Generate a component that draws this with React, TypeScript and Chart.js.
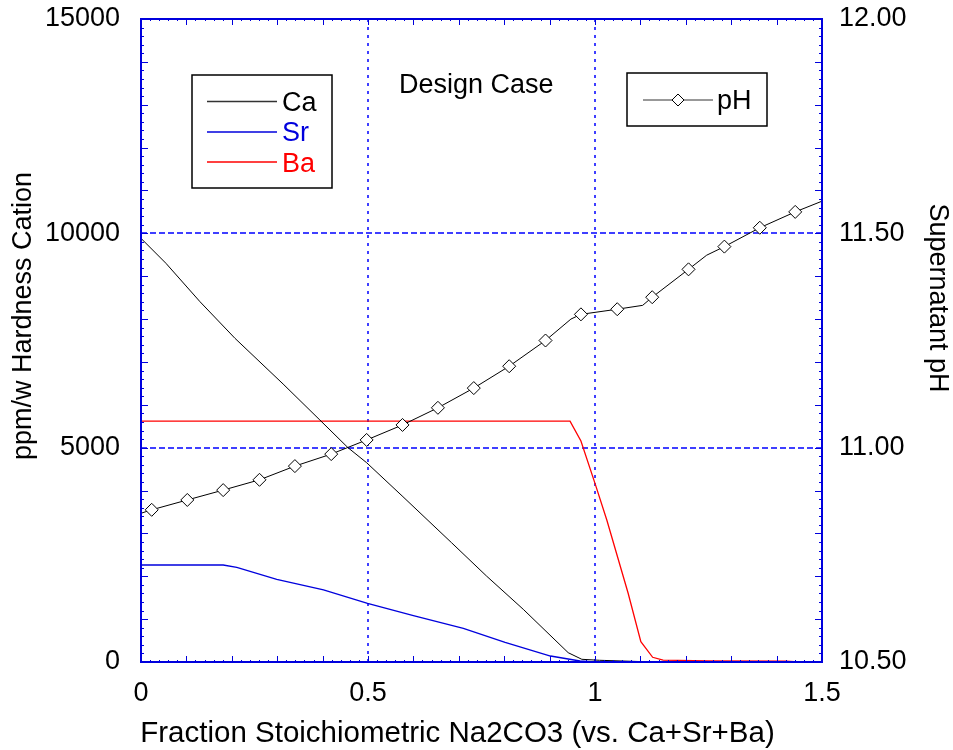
import React, { useEffect, useRef } from "react";
import { Chart, registerables } from "chart.js";
Chart.register(...registerables);

// ---- data ----
const caFrac = [0, 0.055, 0.13, 0.207, 0.313, 0.394, 0.456, 0.497, 0.577, 0.684, 0.761, 0.842, 0.941, 0.971, 1.01, 1.1, 1.5];
const caPpm = [9883, 9300, 8404, 7551, 6485, 5645, 4999, 4649, 3856, 2783, 2006, 1229, 217, 63, 40, 10, 0];

const srFrac = [0, 0.181, 0.211, 0.299, 0.402, 0.499, 0.6, 0.71, 0.802, 0.902, 0.967, 1.0, 1.5];
const srPpm = [2263, 2263, 2209, 1929, 1680, 1370, 1080, 786, 460, 140, 23, 5, 0];

const baFrac = [0, 0.945, 0.969, 1.0, 1.026, 1.073, 1.101, 1.127, 1.15, 1.25, 1.42, 1.45, 1.5];
const baPpm = [5620, 5620, 5155, 4168, 3312, 1603, 474, 110, 45, 25, 20, 0, 0];

const phFrac = [0, 0.0236, 0.102, 0.181, 0.261, 0.339, 0.419, 0.497, 0.576, 0.654, 0.733, 0.811, 0.891, 0.947, 0.969, 1.049, 1.105, 1.126, 1.206, 1.246, 1.285, 1.363, 1.441, 1.5];
const phVal = [10.847, 10.855, 10.878, 10.901, 10.925, 10.957, 10.985, 11.018, 11.053, 11.093, 11.139, 11.19, 11.25, 11.3, 11.311, 11.323, 11.332, 11.351, 11.416, 11.449, 11.469, 11.513, 11.55, 11.575];

const phMarkFrac = [0.0236, 0.102, 0.181, 0.261, 0.339, 0.419, 0.497, 0.576, 0.654, 0.733, 0.811, 0.891, 0.969, 1.049, 1.126, 1.206, 1.285, 1.363, 1.441];
const phMarkVal = [10.855, 10.878, 10.901, 10.925, 10.957, 10.985, 11.018, 11.053, 11.093, 11.139, 11.19, 11.25, 11.311, 11.323, 11.351, 11.416, 11.469, 11.513, 11.55];

const xGridValues = [0.5, 1.0];
const yGridValues = [5000, 10000];

const xLabel = "Fraction Stoichiometric Na2CO3 (vs. Ca+Sr+Ba)";
const yLabel = "ppm/w Hardness Cation";
const y2Label = "Supernatant pH";
const noteText = "Design Case";

const FONT_FAMILY = '"Liberation Sans", Arial, Helvetica, sans-serif';
const FONT_SIZE = 27;
const XTITLE_SIZE = 29.5;
const AXIS_BLUE = "#0000dd";
const GRID_BLUE = "#0000ff";
const SR_BLUE = "#0000dd";
const BA_RED = "#ff0000";

const pts = (xs: number[], ys: number[]) => xs.map((x, i) => ({ x, y: ys[i] }));

const framePlugin = {
  id: "frameDecor",
  beforeDatasetsDraw(chart: any) {
    const { ctx, chartArea: a, scales } = chart;
    const sx = scales.x, sy = scales.y;
    ctx.save();
    ctx.strokeStyle = GRID_BLUE;
    ctx.lineWidth = 1.5;
    ctx.setLineDash([3, 5]);
    for (const v of xGridValues) {
      const px = Math.round(sx.getPixelForValue(v));
      ctx.beginPath(); ctx.moveTo(px, a.top); ctx.lineTo(px, a.bottom); ctx.stroke();
    }
    ctx.setLineDash([6, 3]);
    for (const v of yGridValues) {
      const py = Math.round(sy.getPixelForValue(v));
      ctx.beginPath(); ctx.moveTo(a.left, py); ctx.lineTo(a.right, py); ctx.stroke();
    }
    ctx.restore();
  },
  afterDatasetsDraw(chart: any) {
    const { ctx, chartArea: a, scales } = chart;
    const sx = scales.x, sy = scales.y, sy2 = scales.y2;
    ctx.save();
    ctx.setLineDash([]);
    ctx.strokeStyle = AXIS_BLUE;
    ctx.lineWidth = 1;
    const seg = (x1: number, y1: number, x2: number, y2: number) => {
      ctx.beginPath(); ctx.moveTo(x1, y1); ctx.lineTo(x2, y2); ctx.stroke();
    };
    for (let i = 0; i <= 75; i++) {
      const v = i * 0.02;
      const len = i % 5 === 0 ? 6 : 2;
      const px = Math.round(sx.getPixelForValue(v)) + 0.5;
      seg(px, a.bottom, px, a.bottom - len);
      seg(px, a.top, px, a.top + len);
    }
    for (let i = 0; i <= 75; i++) {
      const v = i * 200;
      const len = i % 5 === 0 ? 7 : 3;
      const py = Math.round(sy.getPixelForValue(v)) + 0.5;
      seg(a.left, py, a.left + len, py);
    }
    for (let i = 0; i <= 75; i++) {
      const v = 10.5 + i * 0.02;
      const len = i % 5 === 0 ? 7 : 3;
      const py = Math.round(sy2.getPixelForValue(v)) + 0.5;
      seg(a.right, py, a.right - len, py);
    }
    ctx.lineWidth = 2;
    ctx.strokeRect(a.left, a.top, a.right - a.left, a.bottom - a.top);

    // left legend
    ctx.strokeStyle = "#000";
    ctx.lineWidth = 1.5;
    ctx.strokeRect(192, 75, 140, 113);
    const entries = [
      { t: "Ca", c: "#000", lc: "#333333", y: 101.5, b: 110.7 },
      { t: "Sr", c: SR_BLUE, lc: SR_BLUE, y: 132, b: 141.4 },
      { t: "Ba", c: BA_RED, lc: BA_RED, y: 162, b: 171.7 },
    ];
    ctx.font = `${FONT_SIZE}px ${FONT_FAMILY}`;
    ctx.textBaseline = "alphabetic";
    ctx.textAlign = "left";
    for (const e of entries) {
      ctx.strokeStyle = e.lc;
      ctx.lineWidth = 1.5;
      seg(207, e.y, 277, e.y);
      ctx.fillStyle = e.c;
      ctx.fillText(e.t, 282, e.b);
    }
    // right legend
    ctx.strokeStyle = "#000";
    ctx.lineWidth = 1.5;
    ctx.strokeRect(627, 73, 140, 53);
    ctx.lineWidth = 1;
    ctx.strokeStyle = "#333";
    seg(643, 100, 713, 100);
    ctx.beginPath();
    ctx.moveTo(672, 100); ctx.lineTo(678, 94); ctx.lineTo(684, 100); ctx.lineTo(678, 106); ctx.closePath();
    ctx.fillStyle = "#fff"; ctx.fill();
    ctx.strokeStyle = "#000"; ctx.stroke();
    ctx.fillStyle = "#000";
    ctx.fillText("pH", 717, 109.3);
    ctx.fillText(noteText, 399, 93);

    // axis titles
    ctx.textAlign = "center";
    ctx.textBaseline = "middle";
    ctx.save();
    ctx.translate(24, 316);
    ctx.rotate(-Math.PI / 2);
    ctx.fillText(yLabel, 0, 0);
    ctx.restore();
    ctx.save();
    ctx.translate(937, 298);
    ctx.rotate(Math.PI / 2);
    ctx.fillText(y2Label, 0, 0);
    ctx.restore();
    ctx.font = `${XTITLE_SIZE}px ${FONT_FAMILY}`;
    ctx.fillText(xLabel, 457.5, 734);
    ctx.restore();
  },
};

export default function App() {
  const ref = useRef<HTMLCanvasElement | null>(null);
  useEffect(() => {
    if (!ref.current) return;
    const font = { family: FONT_FAMILY, size: FONT_SIZE };
    const chart = new Chart(ref.current, {
      type: "line",
      data: {
        datasets: [
          {
            label: "pH markers",
            data: pts(phMarkFrac, phMarkVal),
            yAxisID: "y2",
            showLine: false,
            pointStyle: "rectRot",
            pointRadius: 6.5,
            pointBackgroundColor: "#fff",
            pointBorderColor: "#000",
            pointBorderWidth: 1,
          },
          {
            label: "pH",
            data: pts(phFrac, phVal),
            yAxisID: "y2",
            borderColor: "#000",
            borderWidth: 1,
            pointRadius: 0,
            tension: 0,
          },
          {
            label: "Ca",
            data: pts(caFrac, caPpm),
            yAxisID: "y",
            borderColor: "#000",
            borderWidth: 1,
            pointRadius: 0,
          },
          {
            label: "Sr",
            data: pts(srFrac, srPpm),
            yAxisID: "y",
            borderColor: SR_BLUE,
            borderWidth: 1.3,
            pointRadius: 0,
          },
          {
            label: "Ba",
            data: pts(baFrac, baPpm),
            yAxisID: "y",
            borderColor: BA_RED,
            borderWidth: 1.3,
            pointRadius: 0,
          },
        ],
      },
      options: {
        animation: false,
        responsive: true,
        maintainAspectRatio: false,
        layout: { padding: { top: 19, left: 0, right: 0, bottom: 0 } },
        plugins: { legend: { display: false }, tooltip: { enabled: false } },
        scales: {
          x: {
            type: "linear",
            min: 0,
            max: 1.5,
            grid: { display: false, drawTicks: false },
            border: { display: false },
            ticks: { stepSize: 0.5, color: "#000", font, padding: 15, maxRotation: 0, callback: (v: any) => String(Number(v)) },
            title: { display: false },
            afterFit: (s: any) => { s.height = 88; s.paddingLeft = 0; s.paddingRight = 0; },
          },
          y: {
            type: "linear",
            position: "left",
            min: 0,
            max: 15000,
            grid: { display: false, drawTicks: false },
            border: { display: false },
            ticks: { stepSize: 5000, color: "#000", font, padding: 21, callback: (v: any) => String(v) },
            title: { display: false },
            afterFit: (s: any) => { s.width = 141; s.paddingTop = 0; s.paddingBottom = 0; },
          },
          y2: {
            type: "linear",
            position: "right",
            min: 10.5,
            max: 12,
            grid: { display: false, drawTicks: false },
            border: { display: false },
            ticks: { stepSize: 0.5, color: "#000", font, padding: 17, callback: (v: any) => Number(v).toFixed(2) },
            title: { display: false },
            afterFit: (s: any) => { s.width = 131; s.paddingTop = 0; s.paddingBottom = 0; },
          },
        },
      },
      plugins: [framePlugin],
    } as any);
    return () => chart.destroy();
  }, []);
  return (
    <div style={{ position: "fixed", left: 0, top: 0, width: 953, height: 750, background: "#fff" }}>
      <canvas ref={ref} />
    </div>
  );
}
